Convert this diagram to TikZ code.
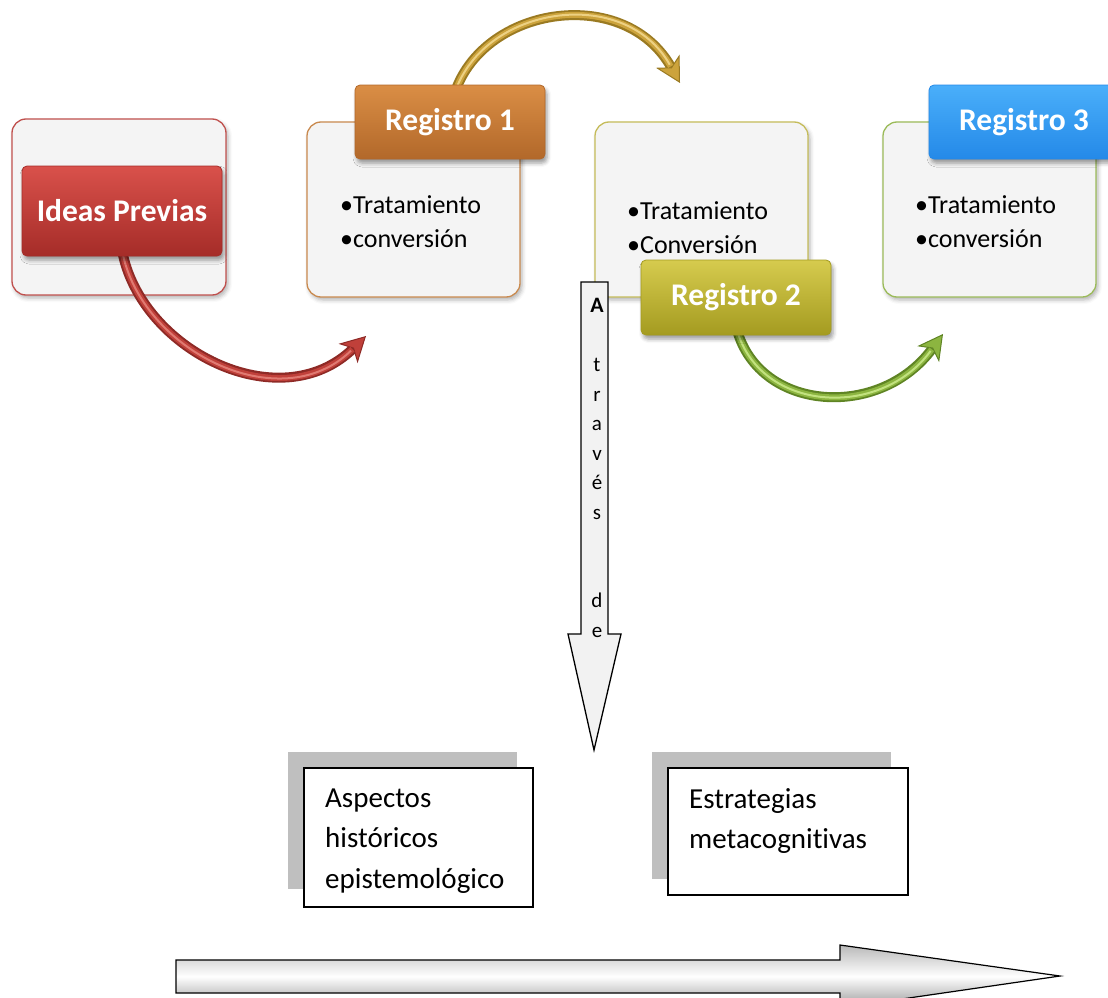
\documentclass[tikz,border=0pt]{standalone}
\usepackage{fontspec}
\setmainfont{Carlito}[Ligatures=NoCommon]
\usetikzlibrary{arrows.meta,shadows.blur}

\definecolor{panelfill}{HTML}{F4F4F4}
\definecolor{redline}{HTML}{C0504D}
\definecolor{redtop}{HTML}{D9514B}
\definecolor{redbot}{HTML}{A52C28}
\definecolor{orgline}{HTML}{C98A4F}
\definecolor{orgtop}{HTML}{DA8E45}
\definecolor{orgbot}{HTML}{B2682A}
\definecolor{oliveline}{HTML}{C5BC5A}
\definecolor{olivetop}{HTML}{D6CB4E}
\definecolor{olivebot}{HTML}{A49B20}
\definecolor{greenline}{HTML}{9BBB59}
\definecolor{bluetop}{HTML}{4AAFFA}
\definecolor{bluebot}{HTML}{2489E8}
\definecolor{arrredD}{HTML}{8E2A26}
\definecolor{arrredM}{HTML}{C0403A}
\definecolor{arrredL}{HTML}{E07A72}
\definecolor{arrgoldD}{HTML}{9A7A22}
\definecolor{arrgoldM}{HTML}{CCA33C}
\definecolor{arrgoldL}{HTML}{EDD183}
\definecolor{arrgrnD}{HTML}{5F8424}
\definecolor{arrgrnM}{HTML}{8CB540}
\definecolor{arrgrnL}{HTML}{C2E27F}
\definecolor{blockfill}{HTML}{F2F2F2}
\definecolor{shadegray}{HTML}{BFBFBF}

% three-layer tube arrow: dark rim, body colour, highlight
\newcommand\tubearrow[4]{%
  \draw[line width=10pt,draw=#1,
        -{Stealth[length=25pt,width=27pt,inset=7pt,fill=#2,line width=1pt]}] #4;
  \draw[line width=6pt,draw=#2,shorten >=19pt] #4;
  \draw[line width=2pt,draw=#3,shorten >=21pt] #4;}

\begin{document}
\begin{tikzpicture}[x=1pt,y=-1pt,
  panel/.style={draw,line width=1.3pt,fill=panelfill,rounded corners=14pt,
    minimum width=213pt,minimum height=175pt,inner sep=0pt,
    blur shadow={shadow xshift=2pt,shadow yshift=-3pt,shadow blur radius=4pt,shadow opacity=30}},
  header/.style={rounded corners=5pt,minimum width=190pt,minimum height=74pt,inner sep=0pt,
    text=white,font=\fontsize{31.5}{36}\selectfont\bfseries,line width=0.8pt,
    blur shadow={shadow xshift=2pt,shadow yshift=-4pt,shadow blur radius=4pt,shadow opacity=40}},
  bullets/.style={anchor=west,align=left,inner sep=0pt,
    font=\fontsize{26}{34}\selectfont},
  plainbox/.style={draw=black,line width=1.2pt,fill=white,inner sep=0pt},
  graybox/.style={fill=shadegray,inner sep=0pt},
  boxtext/.style={anchor=west,align=left,inner sep=0pt,
    font=\fontsize{29}{40.5}\selectfont},
  letter/.style={inner sep=0pt,text height=14pt,text depth=5pt,
    font=\fontsize{21}{25}\selectfont}]

\useasboundingbox (0,0) rectangle (1108,998);
\clip (0,0) rectangle (1108,998);

% content panels
\node[panel,draw=redline,minimum width=214pt,minimum height=176pt] (ideasbox) at (119,207) {};
\node[panel,draw=orgline] (regAbox) at (413.5,209.5) {};
\node[panel,draw=oliveline] (regBbox) at (701.5,209.5) {};
\node[panel,draw=greenline] (regCbox) at (989.5,209.5) {};

\node[bullets] (regAtext) at (340,222) {•Tratamiento\\•conversión};
\node[bullets] (regBtext) at (627,228) {•Tratamiento\\•Conversión};
\node[bullets] (regCtext) at (915,222) {•Tratamiento\\•conversión};

% curved connectors
\coordinate (redend) at (366,336);
\coordinate (goldstart) at (455,92);
\coordinate (goldend) at (680,83);
\coordinate (grnend) at (943,334);
\coordinate (redstart) at (122,250);
\coordinate (grnstart) at (737,330);

\tubearrow{arrredD}{arrredM}{arrredL}{(redstart) .. controls (140,350) and (280,420) .. (redend)}
\tubearrow{arrgoldD}{arrgoldM}{arrgoldL}{(goldstart) .. controls (485,5) and (625,-15) .. (goldend)}
\tubearrow{arrgrnD}{arrgrnM}{arrgrnL}{(grnstart) .. controls (760,412) and (880,420) .. (grnend)}

% headers
\node[header,draw=redbot,top color=redtop,bottom color=redbot,
      minimum width=200pt,minimum height=90pt] (ideas) at (122,211) {Ideas Previas};
\node[header,draw=orgbot,top color=orgtop,bottom color=orgbot] (regA) at (450,122) {Registro 1};
\node[header,draw=olivebot,top color=olivetop,bottom color=olivebot,minimum height=75pt]
      (regB) at (736,297.5) {Registro 2};
\node[header,draw=bluebot,top color=bluetop,bottom color=bluebot] (regC) at (1024,122) {Registro 3};

% block arrow pointing down
\draw[line width=1.3pt,fill=blockfill,line join=miter]
  (581,282) -- (608,282) -- (608,634) -- (621,634) -- (594,750)
  -- (568,634) -- (581,634) -- cycle;
\node[letter,font=\fontsize{22}{25}\selectfont\bfseries] (lA) at (597,308) {A};
\foreach \ch/\k in {t/2,r/3,a/4,v/5,é/6,s/7,d/10,e/11}
  \node[letter] (l\k) at (597,308+29.5*\k) {\ch};

% lower boxes with offset gray backing
\node[graybox,minimum width=229pt,minimum height=137pt] (aspshade) at (402.5,820.5) {};
\node[plainbox,minimum width=229pt,minimum height=139pt] (asp) at (418.5,837.5) {};
\node[boxtext] (asptext) at (325,841) {Aspectos\\históricos\\epistemológico};

\node[graybox,minimum width=239pt,minimum height=127pt] (estshade) at (771.5,815.5) {};
\node[plainbox,minimum width=240pt,minimum height=127pt] (est) at (788,831.5) {};
\node[boxtext] (esttext) at (689,821) {Estrategias\\metacognitivas};

% wide block arrow along the bottom
\draw[line width=1.2pt,top color=gray!55,bottom color=gray!80,middle color=white]
  (176,960) -- (840,960) -- (840,945) -- (1060,976) -- (840,1008)
  -- (840,993) -- (176,993) -- cycle;

\end{tikzpicture}
\end{document}
